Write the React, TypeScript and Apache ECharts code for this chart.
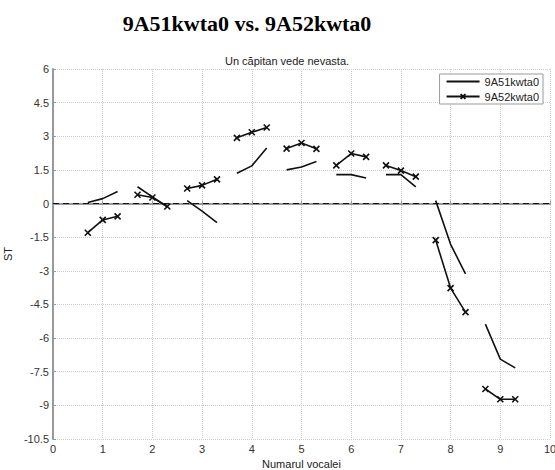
import React, { useEffect, useRef } from "react";
import * as echarts from "echarts";

const title = "9A51kwta0 vs. 9A52kwta0";
const subtitle = "Un căpitan vede nevasta.";
const seriesNames = ["9A51kwta0", "9A52kwta0"];
const vowels = [1, 2, 3, 4, 5, 6, 7, 8, 9];
const offsets = [-0.3, 0, 0.3];
const s1 = [
  [0.05, 0.22, 0.54],
  [0.75, 0.3, -0.15],
  [0.13, -0.34, -0.85],
  [1.35, 1.68, 2.48],
  [1.5, 1.63, 1.87],
  [1.29, 1.29, 1.14],
  [1.29, 1.29, 0.74],
  [0.13, -1.82, -3.14],
  [-5.38, -6.94, -7.33],
];
const s2 = [
  [-1.3, -0.73, -0.57],
  [0.39, 0.27, -0.13],
  [0.67, 0.81, 1.08],
  [2.93, 3.18, 3.39],
  [2.45, 2.7, 2.44],
  [1.7, 2.23, 2.08],
  [1.7, 1.47, 1.2],
  [-1.63, -3.77, -4.84],
  [-8.27, -8.73, -8.73],
];

const CROSS = "path://M0,0L10,10M10,0L0,10";

export default function App() {
  const ref = useRef<HTMLDivElement>(null);
  useEffect(() => {
    if (!ref.current) return;
    const chart = echarts.init(ref.current, null, { renderer: "svg" });
    const series: any[] = [];
    vowels.forEach((v, i) => {
      series.push({
        name: seriesNames[0],
        type: "line",
        symbol: "none",
        lineStyle: { color: "#111", width: 1.6 },
        itemStyle: { color: "#111" },
        data: offsets.map((o, k) => [v + o, s1[i][k]]),
        markLine:
          i === 0
            ? {
                silent: true,
                symbol: "none",
                label: { show: false },
                lineStyle: { color: "#111", type: [6, 4], width: 1.2 },
                data: [{ yAxis: 0 }],
              }
            : undefined,
      });
      series.push({
        name: seriesNames[1],
        type: "line",
        symbol: CROSS,
        symbolSize: 6,
        lineStyle: { color: "#111", width: 1.6 },
        itemStyle: { color: "#111", borderColor: "#111", borderWidth: 1.6 },
        data: offsets.map((o, k) => [v + o, s2[i][k]]),
      });
    });
    const axisLabel = {
      fontFamily: "Liberation Sans",
      fontSize: 11,
      color: "#333",
      margin: 4,
    };
    chart.setOption({
      animation: false,
      backgroundColor: "#fff",
      title: [
        {
          text: title,
          left: 242,
          top: 7,
          textAlign: "center",
          textStyle: {
            fontFamily: "Liberation Serif",
            fontWeight: "bold",
            fontSize: 22,
            color: "#000",
          },
        },
        {
          text: subtitle,
          left: 282,
          top: 50,
          textAlign: "center",
          textStyle: {
            fontFamily: "Liberation Sans",
            fontWeight: "normal",
            fontSize: 11,
            color: "#222",
          },
        },
      ],
      legend: {
        data: [
          { name: seriesNames[0], itemStyle: { opacity: 0 } },
          { name: seriesNames[1], itemStyle: { opacity: 1 } },
        ],
        orient: "vertical",
        right: 12,
        top: 74,
        backgroundColor: "#fff",
        borderColor: "#999",
        borderWidth: 1,
        borderRadius: 0,
        padding: [2, 4, 2, 6],
        itemWidth: 33,
        itemHeight: 6,
        itemGap: 4,
        textStyle: { fontFamily: "Liberation Sans", fontSize: 11, color: "#222" },
      },
      grid: {
        left: 53,
        top: 69,
        right: 5,
        bottom: 31,
        containLabel: false,
        outerBoundsMode: "none",
      },
      xAxis: {
        type: "value",
        min: 0,
        max: 10,
        interval: 1,
        name: "Numarul vocalei",
        nameLocation: "middle",
        nameGap: 19,
        nameTextStyle: { fontFamily: "Liberation Sans", fontSize: 11, color: "#222" },
        axisLine: { lineStyle: { color: "#999", width: 2 } },
        axisTick: { show: true, inside: true, length: 3, lineStyle: { color: "#999" } },
        axisLabel,
        splitLine: { show: true, lineStyle: { color: "#ccc", type: "dotted", width: 1 } },
      },
      yAxis: {
        type: "value",
        min: -10.5,
        max: 6,
        interval: 1.5,
        name: "ST",
        nameLocation: "middle",
        nameGap: 38,
        nameTextStyle: { fontFamily: "Liberation Sans", fontSize: 11, color: "#222" },
        axisLine: { show: true, lineStyle: { color: "#999", width: 2 } },
        axisTick: { show: true, inside: true, length: 3, lineStyle: { color: "#999" } },
        axisLabel,
        splitLine: { show: true, lineStyle: { color: "#ccc", type: "dotted", width: 1 } },
      },
      series,
    });
    return () => chart.dispose();
  }, []);
  return (
    <div
      ref={ref}
      style={{ position: "absolute", left: 0, top: 0, width: 555, height: 470 }}
    />
  );
}
